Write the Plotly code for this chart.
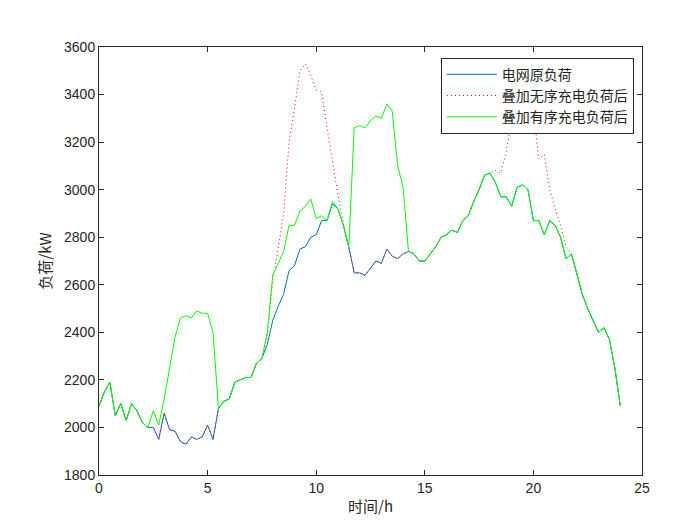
import numpy as np
import plotly.graph_objects as go

t = [i * 0.25 for i in range(97)]
base = [2090,2150,2190,2050,2100,2030,2100,2070,2020,2000,2000,1950,2060,1990,1985,1940,
        1930,1960,1950,1960,2010,1950,2080,2110,2120,2190,2200,2210,2210,2270,2290,2350,
        2450,2510,2560,2660,2680,2750,2760,2800,2810,2870,2870,2940,2920,2850,2760,2650,
        2650,2640,2670,2700,2690,2750,2720,2710,2730,2740,2730,2700,2700,2730,2760,2800,
        2810,2830,2820,2870,2890,2950,3000,3060,3070,3030,2970,2970,2930,3010,3020,3000,
        2870,2870,2810,2870,2850,2800,2710,2730,2650,2560,2500,2450,2400,2420,2370,2250,2090]
disorder = list(base)
dis_over = {31:2380,32:2620,33:2750,34:2900,35:3200,36:3340,37:3500,38:3530,39:3480,40:3420,
            41:3410,42:3260,43:3120,44:2980,45:2860,46:2760,
            73:3080,74:3070,75:3160,76:3300,77:3480,78:3550,79:3500,80:3330,81:3130,82:3150,
            83:3000,84:2920,85:2850,86:2760}
for k, v in dis_over.items():
    disorder[k] = v
order = list(base)
ord_over = {10:2070,11:2010,12:2120,13:2250,14:2380,15:2460,16:2470,17:2460,18:2490,19:2480,
            20:2480,21:2400,31:2400,32:2640,33:2690,34:2740,35:2850,36:2850,37:2910,38:2930,
            39:2960,40:2880,41:2890,42:2870,43:2950,44:2920,45:2850,46:2760,47:3260,48:3270,
            49:3260,50:3290,51:3310,52:3300,53:3360,54:3330,55:3100,56:3010,57:2740}
for k, v in ord_over.items():
    order[k] = v

fig = go.Figure()
fig.add_trace(go.Scatter(x=t, y=base, mode="lines", name="电网原负荷",
                         line=dict(color="#0072BD", width=1)))
fig.add_trace(go.Scatter(x=t, y=disorder, mode="lines", name="叠加无序充电负荷后",
                         line=dict(color="#FF0000", width=1, dash="1px,3px")))
fig.add_trace(go.Scatter(x=t, y=order, mode="lines", name="叠加有序充电负荷后",
                         line=dict(color="#00FF00", width=1)))

ax = dict(showline=True, linecolor="#262626", linewidth=1, mirror="ticks", ticks="inside",
          ticklen=5, tickcolor="#262626", showgrid=False, zeroline=False, automargin=False,
          tickfont=dict(family="Liberation Sans, Arial", size=14, color="#262626"))
fig.update_xaxes(range=[0, 25], dtick=5, title=dict(text="时间/h", standoff=6,
                 font=dict(family="Noto Sans CJK SC", size=15, color="#262626")), **ax)
fig.update_yaxes(range=[1800, 3600], dtick=200, title=dict(text="负荷/kW", standoff=8,
                 font=dict(family="Noto Sans CJK SC", size=15, color="#262626")), **ax)
fig.update_layout(width=700, height=525, margin=dict(l=91, r=66, t=39, b=58, autoexpand=False),
                  plot_bgcolor="white", paper_bgcolor="white",
                  legend=dict(x=0.985, y=0.975, xanchor="right", yanchor="top",
                              bgcolor="white", bordercolor="#262626", borderwidth=1,
                              font=dict(family="Noto Sans CJK SC", size=14, color="#262626"),
                              tracegroupgap=0, itemwidth=50))
fig.write_html("out.html")
